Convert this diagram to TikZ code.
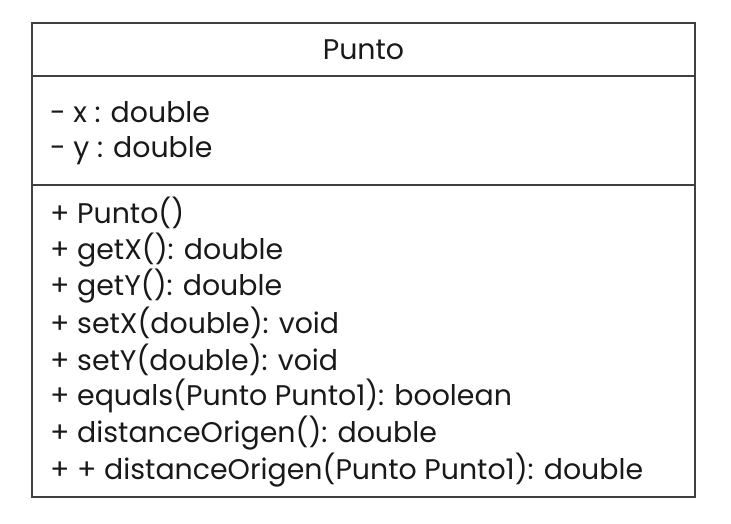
\documentclass[tikz,border=0pt]{standalone}
\usepackage{fontspec}
\setmainfont{Poppins}
\usetikzlibrary{positioning}

\begin{document}
\begin{tikzpicture}[
  x=1pt, y=-1pt,
  frame/.style={draw=black!75, line width=1.1pt},
  member/.style={anchor=west, inner sep=0pt, font=\fontsize{28.4}{32}\selectfont, text=black!90},
  title/.style={inner sep=0pt, font=\fontsize{28.4}{32}\selectfont, text=black!90}
]
\useasboundingbox (0,0) rectangle (731,523);

\draw[frame] (32,23) rectangle (695,497);
\draw[frame] (32,76) -- (695,76);
\draw[frame] (32,185) -- (695,185);

\node[title] (name) at (363.5,50) {Punto};

\node[member] (attx) at (50,112) {- x : double};
\node[member] (atty) at (50,151) {- y : double};

\node[member] (mcons) at (50,213) {+ Punto()};
\node[member] (mgetx) at (50,250) {+ getX(): double};
\node[member] (mgety) at (50,286) {+ getY(): double};
\node[member] (msetx) at (50,323) {+ setX(double): void};
\node[member] (msety) at (50,360) {+ setY(double): void};
\node[member] (mequal) at (50,396) {+ equals(Punto Punto1): boolean};
\node[member] (mdist) at (50,433) {+ distanceOrigen(): double};
\node[member] (mdistp) at (50,470) {+ + distanceOrigen(Punto Punto1): double};
\end{tikzpicture}
\end{document}
